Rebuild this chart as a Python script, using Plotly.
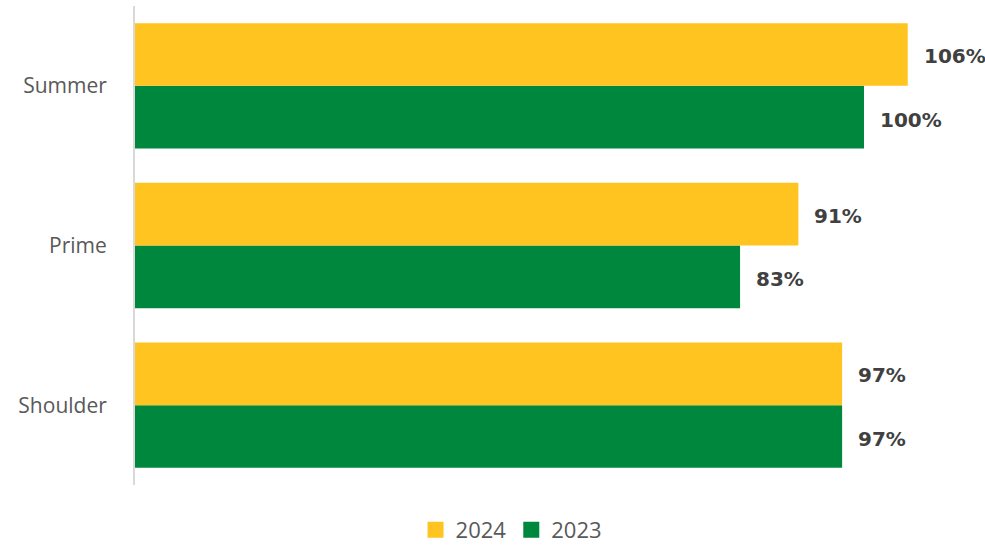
import plotly.graph_objects as go

# Occupancy by season, two years
seasons = ["Summer", "Prime", "Shoulder"]
vals_2024 = [106, 91, 97]
vals_2023 = [100, 83, 97]
order_bottom_up = ["Shoulder", "Prime", "Summer"]

c2024 = "#FFC420"
c2023 = "#00873E"

fig = go.Figure()
fig.add_trace(go.Bar(name="2023", y=seasons, x=vals_2023, orientation="h",
                     marker=dict(color=c2023, line=dict(width=0)),
                     offsetgroup="a", showlegend=False, hoverinfo="x+y"))
fig.add_trace(go.Bar(name="2024", y=seasons, x=vals_2024, orientation="h",
                     marker=dict(color=c2024, line=dict(width=0)),
                     offsetgroup="b", showlegend=False, hoverinfo="x+y"))

# square legend keys
for name, col in (("2024", c2024), ("2023", c2023)):
    fig.add_trace(go.Scatter(name=name, x=[None], y=[None], mode="markers",
                             marker=dict(symbol="square", size=18, color=col)))

# value labels placed just beyond the end of each bar
for vals, shift in ((vals_2024, 0.2), (vals_2023, -0.2)):
    for s, v in zip(seasons, vals):
        idx = order_bottom_up.index(s)
        fig.add_annotation(x=v, y=idx + shift, text=f"<b>{v}%</b>",
                           showarrow=False, xanchor="left", xshift=14, yshift=-2,
                           font=dict(family="DejaVu Sans", size=20, color="#404040"))

fig.update_layout(
    width=985, height=551,
    margin=dict(l=135, r=0, t=6, b=66),
    paper_bgcolor="white", plot_bgcolor="white",
    barmode="group", bargap=0.215, bargroupgap=0,
    showlegend=True,
    legend=dict(orientation="h", x=0.443, xanchor="center", y=-0.05, yanchor="top",
                font=dict(family="Open Sans", size=22, color="#595959"),
                itemwidth=30, tracegroupgap=0),
    xaxis=dict(range=[0, 116.6], visible=False),
    yaxis=dict(categoryorder="array", categoryarray=order_bottom_up,
               range=[-0.5, 2.5], showline=True, linecolor="#D9D9D9", linewidth=2,
               showgrid=False, ticks="", ticklabelstandoff=22,
               tickfont=dict(family="Open Sans", size=21, color="#595959")),
)

fig.write_html("out.html")
